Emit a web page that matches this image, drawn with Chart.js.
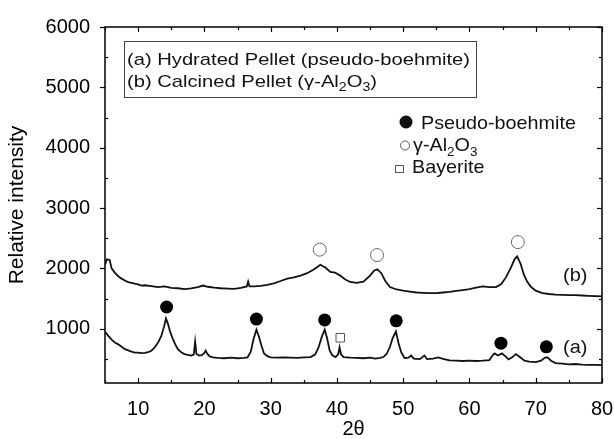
<!DOCTYPE html>
<html>
<head>
<meta charset="utf-8">
<script src="https://cdn.jsdelivr.net/npm/chart.js@4.4.1/dist/chart.umd.min.js"></script>
<style>
  html, body { margin: 0; padding: 0; background: #fff; }
  #wrap { width: 614px; height: 439px; position: relative; }
</style>
</head>
<body>
<div id="wrap"><canvas id="xrd"></canvas></div>
<script>
// (a) hydrated pellet
const thetaA = [5, 5.5, 6, 6.5, 7, 7.5, 8, 8.5, 9, 9.5, 10, 10.5, 11, 11.5, 12, 12.5, 13, 13.5, 13.9, 14.2,
  14.5, 14.8, 15.2, 15.6, 16, 16.5, 17, 17.5, 18, 18.4, 18.6, 18.8, 19.2, 19.6, 20, 20.2, 20.4, 20.8, 21.3, 22,
  23, 24, 25, 26, 26.5, 27, 27.4, 27.85, 28.2, 28.6, 29, 29.5, 30, 31, 32, 33, 34, 35, 36, 36.7,
  37.2, 37.7, 38.15, 38.5, 38.9, 39.3, 39.8, 40.2, 40.4, 40.6, 41, 42, 43, 44, 45, 45.8, 46.5, 47, 47.5, 48,
  48.4, 48.9, 49.3, 49.7, 50.2, 50.8, 51.2, 51.6, 52.5, 53.2, 53.6, 54.5, 55.3, 56, 57, 58, 59, 60, 61, 62,
  63, 63.5, 63.8, 64.3, 64.9, 65.4, 65.9, 66.5, 67, 67.5, 68.3, 69, 70, 70.8, 71.4, 71.8, 72.3, 73, 74, 75,
  76, 77, 78, 79, 80];
const intensityA = [955, 880, 820, 770, 740, 700, 660, 640, 620, 605, 605, 595, 600, 610, 635, 690, 770, 880, 1030, 1170,
  1080, 960, 840, 740, 660, 610, 580, 565, 555, 570, 785, 580, 555, 560, 600, 635, 590, 540, 525, 515,
  510, 520, 510, 515, 525, 620, 820, 985, 880, 720, 590, 545, 525, 520, 525, 520, 515, 525, 530, 570,
  680, 860, 985, 850, 640, 560, 530, 580, 690, 580, 530, 520, 515, 510, 520, 505, 515, 530, 580, 700,
  840, 955, 760, 610, 515, 520, 555, 505, 495, 555, 495, 505, 525, 500, 475, 470, 465, 470, 465, 470,
  480, 560, 590, 555, 590, 545, 490, 530, 580, 540, 470, 455, 445, 470, 520, 525, 470, 430, 420, 410,
  415, 405, 400, 400, 395];

// (b) calcined pellet
const thetaB = [5, 5.3, 5.7, 6, 6.5, 7, 7.5, 8, 8.5, 9, 9.5, 10, 10.5, 11, 12, 13, 14, 15, 16, 17,
  18, 19, 19.8, 20.5, 21.5, 22.5, 23.5, 24.5, 25.5, 26.4, 26.6, 26.8, 27.5, 28.5, 29.5, 30.5, 31.5, 32.5, 33.5, 34.5,
  35.5, 36.5, 37.5, 38.3, 39, 39.7, 40.5, 41.2, 42, 43, 44, 45, 45.6, 46.1, 46.7, 47.3, 48, 49, 50, 51,
  52, 53, 54, 55, 56, 57, 58, 59, 60, 61, 62, 63, 64, 64.8, 65.5, 66.2, 66.8, 67.2, 67.7, 68.2,
  68.7, 69.3, 70, 71, 72, 73, 74, 75, 76, 77, 78, 79, 80];
const intensityB = [2060, 2150, 2140, 2000, 1925, 1870, 1830, 1800, 1770, 1760, 1745, 1735, 1715, 1720, 1705, 1690, 1700, 1675, 1670, 1655,
  1670, 1690, 1715, 1695, 1680, 1670, 1665, 1660, 1675, 1700, 1780, 1700, 1700, 1710, 1725, 1750, 1790, 1830, 1850, 1880,
  1920, 1980, 2060, 2010, 1940, 1930, 1880, 1820, 1775, 1760, 1780, 1880, 1960, 1985, 1920, 1790, 1690, 1650, 1630, 1615,
  1600, 1595, 1590, 1590, 1600, 1610, 1625, 1640, 1655, 1680, 1700, 1690, 1690, 1740, 1850, 2000, 2150, 2200, 2080, 1900,
  1780, 1690, 1630, 1590, 1575, 1565, 1560, 1555, 1555, 1550, 1545, 1540, 1535];

// phase markers
const boehmiteTheta = [14.3, 27.85, 38.15, 48.95, 64.75, 71.6];
const boehmiteY = [1360, 1160, 1145, 1130, 760, 700];
const aluminaTheta = [37.4, 46.05, 67.3];
const aluminaY = [2310, 2220, 2435];
const bayeriteTheta = [40.5];
const bayeriteY = [850];

const xTicks = [10, 20, 30, 40, 50, 60, 70, 80];
const yTicks = [1000, 2000, 3000, 4000, 5000, 6000];

const pts = (xs, ys) => xs.map((x, i) => ({ x, y: ys[i] }));
const FONT = "'Liberation Sans', Arial, sans-serif";

// draws text runs (with subscripts), stretched horizontally by sx
function richText(ctx, parts, x, y, size, sx) {
  ctx.save();
  ctx.translate(x, y);
  ctx.scale(sx || 1, 1);
  let cx = 0;
  for (const [txt, sub] of parts) {
    ctx.font = (sub ? Math.round(size * 0.68) : size) + 'px ' + FONT;
    ctx.fillText(txt, cx, sub ? size * 0.25 : 0);
    cx += ctx.measureText(txt).width;
  }
  ctx.restore();
}

const framePlugin = {
  id: 'frame',
  afterDraw(chart) {
    const { ctx, chartArea: a, scales: { x, y } } = chart;
    ctx.save();
    ctx.strokeStyle = '#000';
    ctx.lineWidth = 1.5;
    ctx.strokeRect(a.left, a.top, a.right - a.left, a.bottom - a.top);
    ctx.lineWidth = 1.2;
    const seg = (x1, y1, x2, y2) => { ctx.beginPath(); ctx.moveTo(x1, y1); ctx.lineTo(x2, y2); ctx.stroke(); };
    for (let v = 5; v <= 80; v += 5) {
      const px = Math.round(x.getPixelForValue(v)) + 0.5;
      const len = v % 10 === 0 ? 5 : 3;
      seg(px, a.bottom, px, a.bottom - len);
      seg(px, a.top, px, a.top + len);
    }
    for (let v = 500; v <= 6000; v += 500) {
      const py = Math.round(y.getPixelForValue(v)) + 0.5;
      if (v % 1000 === 0) {
        seg(a.left, py, a.left - 5, py);
        seg(a.right, py, a.right - 5, py);
      } else {
        seg(a.left, py, a.left + 3, py);
        seg(a.right, py, a.right - 3, py);
      }
    }

    // caption box
    ctx.fillStyle = '#111';
    ctx.textBaseline = 'alphabetic';
    ctx.strokeStyle = '#444';
    ctx.lineWidth = 1;
    ctx.strokeRect(124.5, 41.5, 352, 56);
    const cap = 17;
    ctx.font = cap + 'px ' + FONT;
    const sx = 343 / ctx.measureText('(a) Hydrated Pellet (pseudo-boehmite)').width;
    richText(ctx, [['(a) Hydrated Pellet (pseudo-boehmite)', 0]], 127, 65, cap, sx);
    richText(ctx, [['(b) Calcined Pellet (\u03b3-Al', 0], ['2', 1], ['O', 0], ['3', 1], [')', 0]], 127, 87, cap, sx);

    // phase legend
    ctx.beginPath();
    ctx.arc(406, 122, 6.5, 0, Math.PI * 2);
    ctx.fill();
    richText(ctx, [['Pseudo-boehmite', 0]], 421, 129, 19, 1.04);
    ctx.strokeStyle = '#555';
    ctx.beginPath();
    ctx.arc(405, 145.5, 4.5, 0, Math.PI * 2);
    ctx.stroke();
    richText(ctx, [['\u03b3-Al', 0], ['2', 1], ['O', 0], ['3', 1]], 413, 151, 19, 1.04);
    ctx.strokeRect(395.5, 165.5, 8, 7);
    richText(ctx, [['Bayerite', 0]], 412, 173, 19, 1.04);

    // trace labels
    richText(ctx, [['(b)', 0]], 563, 281, 19, 1.05);
    richText(ctx, [['(a)', 0]], 563, 353, 19, 1.05);
    ctx.restore();
  }
};

new Chart(document.getElementById('xrd'), {
  type: 'scatter',
  data: {
    datasets: [
      {
        label: '(a)',
        data: pts(thetaA, intensityA),
        showLine: true,
        borderColor: '#111',
        borderWidth: 1.8,
        pointRadius: 0,
        tension: 0
      },
      {
        label: '(b)',
        data: pts(thetaB, intensityB),
        showLine: true,
        borderColor: '#111',
        borderWidth: 1.8,
        pointRadius: 0,
        tension: 0
      },
      {
        label: 'Pseudo-boehmite',
        data: pts(boehmiteTheta, boehmiteY),
        pointStyle: 'circle',
        pointRadius: 6.5,
        backgroundColor: '#000',
        borderColor: '#000',
        borderWidth: 0
      },
      {
        label: 'gamma-Al2O3',
        data: pts(aluminaTheta, aluminaY),
        pointStyle: 'circle',
        pointRadius: 6.5,
        backgroundColor: '#fff',
        borderColor: '#666',
        borderWidth: 1
      },
      {
        label: 'Bayerite',
        data: pts(bayeriteTheta, bayeriteY),
        pointStyle: 'rect',
        pointRadius: 6,
        backgroundColor: 'rgba(255,255,255,0)',
        borderColor: '#555',
        borderWidth: 1
      }
    ]
  },
  options: {
    responsive: true,
    maintainAspectRatio: false,
    animation: false,
    layout: { padding: { top: 17, right: 12, left: 0, bottom: 0 } },
    plugins: {
      legend: { display: false },
      tooltip: { enabled: false }
    },
    scales: {
      x: {
        type: 'linear',
        min: 5,
        max: 80,
        afterBuildTicks: (s) => { s.ticks = xTicks.map(v => ({ value: v })); },
        afterFit: (s) => { s.height = 56; s.paddingRight = 0; s.paddingLeft = 0; },
        grid: { display: false, drawTicks: false },
        border: { display: false },
        ticks: { color: '#000', font: { family: FONT, size: 20 }, padding: 14, callback: (v) => String(v) },
        title: {
          display: true,
          text: '2\u03b8',
          color: '#000',
          font: { family: FONT, size: 20 },
          padding: { top: 0, bottom: -2 }
        }
      },
      y: {
        type: 'linear',
        min: 100,
        max: 6000,
        afterBuildTicks: (s) => { s.ticks = yTicks.map(v => ({ value: v })); },
        afterFit: (s) => { s.width = 105; },
        grid: { display: false, drawTicks: false },
        border: { display: false },
        ticks: { color: '#000', font: { family: FONT, size: 20 }, padding: 15, callback: (v) => String(v) },
        title: {
          display: true,
          text: 'Relative intensity',
          color: '#000',
          font: { family: FONT, size: 21 },
          padding: { top: 5, bottom: 0 }
        }
      }
    }
  },
  plugins: [framePlugin]
});
</script>
</body>
</html>
